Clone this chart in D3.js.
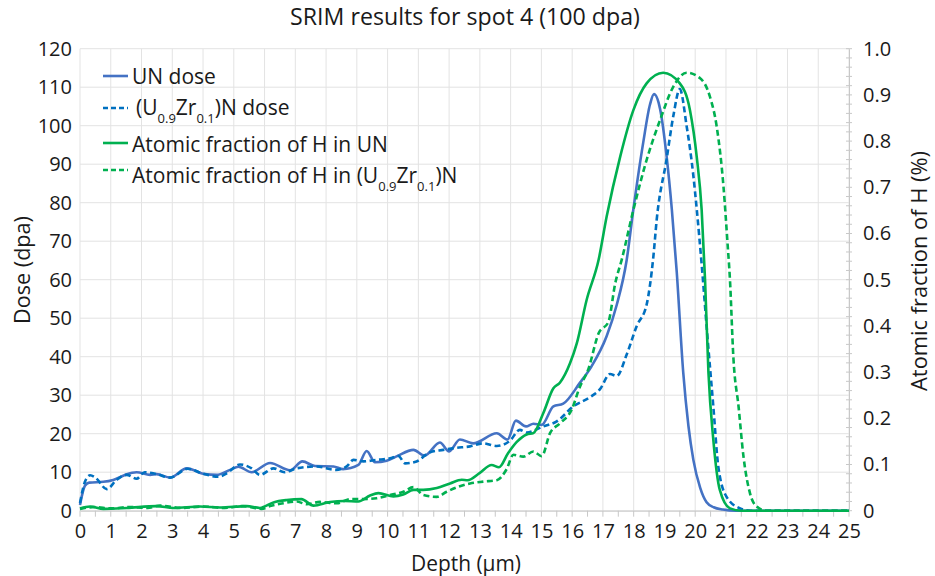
<!DOCTYPE html>
<html><head><meta charset="utf-8">
<script src="https://cdn.jsdelivr.net/npm/d3@7"></script>
<style>
html,body{margin:0;padding:0;background:#fff;}
svg{display:block;font-family:"Open Sans", Lato, sans-serif;}
</style></head>
<body><svg id="c" width="935" height="576"></svg>
<script>
// ---- data (depth in µm) ----
const unDoseDepth = [0,0.16,0.3,0.76,1.08,1.46,1.84,2.28,2.49,2.93,3.47,4.05,4.44,4.88,5.15,5.58,6.18,6.83,7.23,7.64,8.24,8.55,9.05,9.32,9.59,9.97,10.29,10.84,11.2,11.7,12.0,12.35,12.78,13.55,13.9,14.17,14.5,14.74,15.01,15.39,15.71,16.25,16.63,17.12,17.45,17.77,17.99,18.31,18.53,18.66,18.86,19.07,19.24,19.4,19.61,19.78,19.94,20.16,20.37,20.6,20.9,21.3,25];
const unDose      = [1.5,6.5,7.3,7.5,8.0,9.3,10.0,9.3,9.5,8.6,11.0,9.5,9.3,10.6,11.4,10.0,12.4,10.5,12.8,11.6,11.5,10.8,11.9,15.5,12.6,13.0,14.1,15.8,14.3,17.7,15.4,18.5,17.5,20.1,18.5,23.4,21.9,22.6,22.3,27.1,27.8,33.2,37.5,45.3,53.5,65,78.3,95.6,105.5,108.2,104.3,92.1,78.3,62,36,22,13.2,6.0,2.2,0.9,0.3,0,0];

const uzrDoseDepth = [0,0.16,0.33,0.5,0.87,1.19,1.52,1.84,2.1,2.49,2.93,3.5,4.01,4.5,4.77,5.2,5.58,5.85,6.29,6.65,7.04,7.69,8.32,8.67,8.89,9.21,9.64,10.08,10.35,10.57,10.94,11.38,11.81,12.2,12.68,13.11,13.55,13.98,14.3,14.52,15.06,15.5,16.04,16.58,16.9,17.23,17.45,17.77,18.1,18.42,18.64,18.75,19.07,19.29,19.5,19.72,19.94,20.05,20.21,20.4,20.59,20.75,21.02,21.46,21.8,25];
const uzrDose      = [2,7.5,9.2,8.6,5.6,8.0,9.3,8.3,10.0,9.5,8.6,10.9,9.6,8.8,9.7,12.0,11.0,9.3,11.0,10.0,11.0,11.5,10.6,11.5,13.2,12.8,13.2,13.6,14.2,12.3,12.8,15.2,15.8,16.3,16.7,17.5,16.8,18.2,21.0,20.3,21.9,23.2,27.1,29.5,31.5,35.5,35.0,40.5,48,53.5,66,75.7,91.3,102.6,109.5,100,87,78.3,64,45,27,11.5,3.6,0.6,0,0];

const hUNDepth = [0,0.33,0.76,1.52,2.49,3.04,3.9,4.55,5.42,5.85,6.29,6.72,7.2,7.59,8.13,8.6,9.05,9.43,9.7,10.19,10.51,10.84,11.16,11.6,12.03,12.41,12.6,13.0,13.38,13.62,13.92,14.2,14.52,14.74,15.06,15.39,15.6,15.93,16.15,16.47,16.86,17.12,17.56,17.99,18.42,18.96,19.5,19.83,20.05,20.21,20.32,20.43,20.59,20.8,21.13,21.5,25];
const hUN      = [0.005,0.009,0.004,0.006,0.01,0.006,0.009,0.007,0.01,0.006,0.018,0.023,0.025,0.011,0.019,0.021,0.02,0.033,0.038,0.031,0.035,0.045,0.045,0.049,0.059,0.067,0.066,0.082,0.099,0.094,0.125,0.149,0.165,0.168,0.211,0.265,0.277,0.319,0.362,0.456,0.543,0.636,0.766,0.867,0.925,0.948,0.925,0.867,0.766,0.651,0.5,0.3,0.153,0.045,0.005,0,0];

const hUZrDepth = [0,0.5,1.0,1.6,2.2,2.6,3.3,4.0,4.7,5.3,5.9,6.18,6.61,7.04,7.37,7.8,8.35,8.78,9.21,9.64,10.08,10.51,10.84,11.16,11.6,11.92,12.35,12.68,13.11,13.55,13.87,14.09,14.41,14.74,15.01,15.28,15.6,15.98,16.25,16.52,16.86,17.18,17.4,17.61,17.99,18.42,18.86,19.29,19.72,20.16,20.48,20.7,20.92,21.05,21.13,21.24,21.41,21.57,21.78,22.0,22.3,25];
const hUZr      = [0.004,0.008,0.005,0.008,0.006,0.011,0.006,0.009,0.006,0.01,0.004,0.01,0.016,0.02,0.014,0.019,0.016,0.025,0.025,0.027,0.034,0.041,0.051,0.034,0.03,0.041,0.053,0.059,0.063,0.066,0.09,0.121,0.117,0.128,0.118,0.168,0.189,0.218,0.268,0.305,0.384,0.409,0.492,0.543,0.651,0.759,0.846,0.918,0.948,0.936,0.896,0.831,0.701,0.58,0.5,0.333,0.225,0.117,0.038,0.009,0,0];

const depthTicks = d3.range(0, 26, 1);
const doseTicks = d3.range(0, 121, 10);
const fracTicks = [0,0.1,0.2,0.3,0.4,0.5,0.6,0.7,0.8,0.9,1.0];

const titleText = "SRIM results for spot 4 (100 dpa)";
const xTitle = "Depth (µm)";
const yTitle = "Dose (dpa)";
const y2Title = "Atomic fraction of H (%)";

const colBlue = "#4472C4", colBlueD = "#0070C0", colGreen = "#00B050";

// ---- layout ----
const svg = d3.select("#c");
const L = 80, R = 849, T = 48.7, B = 510.7;
const x = d3.scaleLinear().domain([0,25]).range([L,R]);
const yL = d3.scaleLinear().domain([0,120]).range([B,T]);
const yR = d3.scaleLinear().domain([0,1]).range([B,T]);
const grid = "#e3e3e3";
const ink = "#1a1a1a";

function fit(sel, target, base){
  sel.attr("font-size", base);
  const w = sel.node().getComputedTextLength();
  const fs = base * target / w;
  sel.attr("font-size", fs);
  return fs;
}

// gridlines
svg.append("g").selectAll("line").data(depthTicks).join("line")
  .attr("x1", d=>x(d)).attr("x2", d=>x(d)).attr("y1", T).attr("y2", B)
  .attr("stroke", grid).attr("stroke-width", 1);
svg.append("g").selectAll("line").data(doseTicks).join("line")
  .attr("x1", L).attr("x2", R).attr("y1", d=>yL(d)).attr("y2", d=>yL(d))
  .attr("stroke", grid).attr("stroke-width", 1);

// bottom axis
const xAxis = d3.axisBottom(x).tickValues(depthTicks).tickFormat(d3.format("d")).tickSize(0).tickPadding(13);
const gx = svg.append("g").attr("transform", `translate(0,${B})`).call(xAxis);
gx.select(".domain").attr("stroke", "#c8c8c8");
gx.selectAll("text").attr("font-size", 20).attr("fill", ink).attr("font-family",'"Open Sans"');
svg.append("g").selectAll("line").data(d3.range(0, 25.01, 0.5)).join("line")
  .attr("x1", d=>x(d)).attr("x2", d=>x(d)).attr("y1", B).attr("y2", B+6)
  .attr("stroke", "#c8c8c8");

// left axis
const yAxis = d3.axisLeft(yL).tickValues(doseTicks).tickSize(0).tickPadding(8);
const gy = svg.append("g").attr("transform", `translate(${L},0)`).call(yAxis);
gy.select(".domain").remove();
gy.selectAll("text").attr("font-size", 20).attr("fill", ink).attr("font-family",'"Open Sans"');

// right axis
const y2Axis = d3.axisRight(yR).tickValues(fracTicks).tickFormat(d=>d===0?"0":d3.format(".1f")(d)).tickSize(0).tickPadding(14);
const gy2 = svg.append("g").attr("transform", `translate(${R},0)`).call(y2Axis);
gy2.select(".domain").attr("stroke", "#c8c8c8");
gy2.selectAll("text").attr("font-size", 20).attr("fill", ink).attr("font-family",'"Open Sans"');
svg.append("g").selectAll("line").data(d3.range(0, 1.001, 0.02)).join("line")
  .attr("x1", R-3).attr("x2", R+3).attr("y1", d=>yR(d)).attr("y2", d=>yR(d))
  .attr("stroke", "#c8c8c8");

// titles
const tt = svg.append("text").attr("x", 465).attr("y", 25).attr("text-anchor","middle")
  .attr("fill",ink).text(titleText);
fit(tt, 350, 19);
const xt = svg.append("text").attr("x", 466).attr("y", 571).attr("text-anchor","middle")
  .attr("fill",ink).text(xTitle);
fit(xt, 110, 19);
const yt = svg.append("text").attr("transform","translate(30,270) rotate(-90)").attr("text-anchor","middle")
  .attr("fill",ink).text(yTitle);
fit(yt, 108, 19);
const y2t = svg.append("text").attr("transform","translate(927,271) rotate(-90)").attr("text-anchor","middle")
  .attr("fill",ink).text(y2Title);
fit(y2t, 240, 19);

// lines
const curve = d3.curveMonotoneX;
function addLine(dep, vals, yScale, color, dashed){
  const pts = dep.map((d,i)=>[d, vals[i]]);
  const line = d3.line().x(p=>x(p[0])).y(p=>yScale(p[1])).curve(curve);
  svg.append("path").datum(pts).attr("d", line).attr("fill","none")
    .attr("stroke", color).attr("stroke-width", 2.6)
    .attr("stroke-dasharray", dashed ? "6,3.5" : null)
    .attr("stroke-linejoin","round");
}
addLine(unDoseDepth, unDose, yL, colBlue, false);
addLine(uzrDoseDepth, uzrDose, yL, colBlueD, true);
addLine(hUNDepth, hUN, yR, colGreen, false);
addLine(hUZrDepth, hUZr, yR, colGreen, true);

// legend
const legend = svg.append("g").attr("fill",ink);
const items = [
  {ly:76, ty:84, tx:132, col:colBlue, dash:false, parts:[["UN dose",0]]},
  {ly:108, ty:115, tx:136, col:colBlueD, dash:true, parts:[["(U",0],["0.9",1],["Zr",0],["0.1",1],[")N dose",0]]},
  {ly:143, ty:151.5, tx:132, col:colGreen, dash:false, parts:[["Atomic fraction of H in UN",0]]},
  {ly:170, ty:183, tx:132, col:colGreen, dash:true, parts:[["Atomic fraction of H in (U",0],["0.9",1],["Zr",0],["0.1",1],[")N",0]]}
];
const texts = [];
items.forEach((it,i)=>{
  legend.append("line").attr("x1",103).attr("x2",128).attr("y1",it.ly).attr("y2",it.ly)
    .attr("stroke", it.col).attr("stroke-width",2.6).attr("stroke-dasharray", it.dash?"5,3":null);
  const t = legend.append("text").attr("x", it.tx).attr("y", it.ty);
  let shift = 0;
  it.parts.forEach(p=>{
    const ts = t.append("tspan").text(p[0]);
    if(p[1]){ ts.attr("font-size", 13).attr("dy", 8 - shift); shift = 8; }
    else { ts.attr("dy", -shift); shift = 0; }
  });
  texts.push(t);
});
const lfs = fit(texts[2], 256, 19);
texts.forEach(t=>t.attr("font-size", lfs));
</script></body></html>
